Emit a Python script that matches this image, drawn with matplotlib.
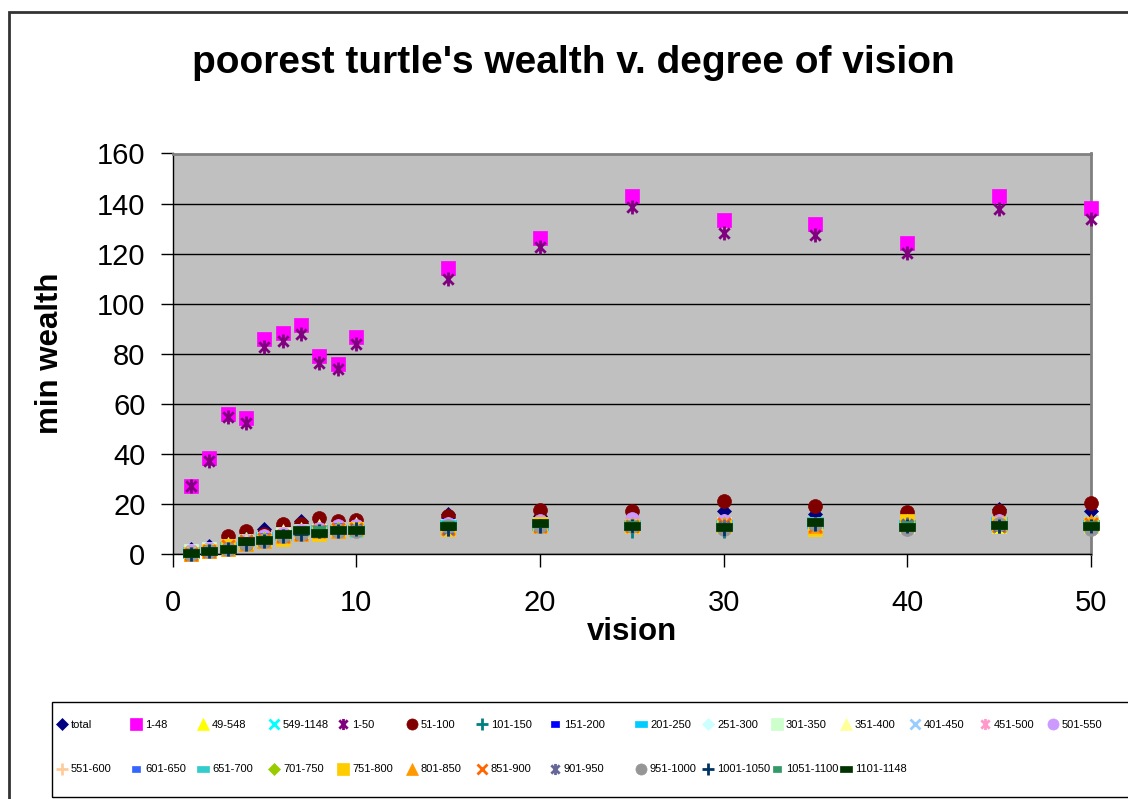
import matplotlib
matplotlib.use("Agg")
import matplotlib.pyplot as plt
from matplotlib.path import Path
from matplotlib.patches import Rectangle
from matplotlib.lines import Line2D

plt.rcParams['font.family'] = ['Liberation Sans', 'DejaVu Sans']

vision = [1, 2, 3, 4, 5, 6, 7, 8, 9, 10, 15, 20, 25, 30, 35, 40, 45, 50]

total = [2, 3, 5, 8, 10, 11, 13, 11, 11, 11, 16, 15, 13, 17, 16, 13, 18, 17]
r1_48 = [27.3, 38.5, 56.1, 54.5, 86, 88.1, 91.3, 79.3, 76.1, 86.5, 114.4, 126.4, 143.2, 133.6, 132, 124.4, 143.2, 138.4]
r49_548 = [0, 1, 2, 5, 6, 7, 8, 9, 10, 11, 10, 11, 11, 11, 10, 12, 11, 11]
r549_1148 = [0, 1, 2, 4, 5, 7, 8, 8, 9, 9, 11, 11, 11, 11, 11, 11, 11, 11]
r1_50 = [27, 37.2, 54.7, 52.3, 82.7, 85, 88, 76.3, 73.9, 84, 110, 122.8, 138.8, 128.4, 127.6, 120.4, 138, 134]
r51_100 = [1, 2, 7, 9, 8, 12, 12, 14.5, 13, 13.6, 15, 17.6, 17, 21, 19.3, 16.7, 17.3, 20.3]
r101_150 = [1, 2, 3, 6, 6, 8, 9, 10, 10, 10, 12, 12, 9, 9, 12, 11, 11, 10]
r151_200 = [1, 2, 4, 6, 7, 8, 10, 10, 11, 11, 13, 12, 12, 12, 13, 12, 12, 12]
r201_250 = [0, 1, 3, 5, 7, 8, 9, 10, 10, 10, 12, 11, 11, 12, 12, 12, 13, 12]
r251_300 = [1, 2, 3, 5, 6, 8, 9, 10, 9, 11, 11, 11, 12, 13, 12, 12, 13, 11]
r301_350 = [1, 2, 3, 5, 6, 8, 9, 9, 10, 10, 11, 12, 11, 12, 12, 11, 12, 12]
r351_400 = [1, 2, 4, 6, 7, 9, 10, 11, 11, 12, 12, 11, 12, 12, 12, 13, 12, 12]
r401_450 = [0, 1, 3, 5, 6, 7, 9, 9, 9, 10, 10, 12, 11, 12, 11, 12, 12, 13]
r451_500 = [1, 2, 3, 5, 6, 8, 9, 10, 10, 11, 11, 12, 13, 12, 11, 12, 12, 12]
r501_550 = [1, 2, 3, 5, 7, 8, 9, 10, 11, 11, 12, 13, 14, 13, 12, 11, 13, 12]
r551_600 = [0, 1, 3, 5, 6, 7, 8, 9, 10, 10, 10, 11, 11, 11, 12, 11, 12, 12]
r601_650 = [1, 2, 3, 5, 7, 8, 9, 10, 11, 10, 12, 11, 12, 12, 13, 12, 12, 12]
r651_700 = [1, 1, 3, 5, 6, 7, 9, 10, 10, 10, 12, 11, 12, 11, 13, 12, 11, 12]
r701_750 = [0, 1, 3, 4, 6, 7, 8, 9, 10, 10, 11, 12, 11, 12, 12, 11, 12, 10]
r751_800 = [0, 1, 3, 4, 5, 6, 8, 8, 9, 10, 10, 12, 11, 11, 10, 13, 12, 12]
r801_850 = [0, 1, 2, 4, 5, 7, 8, 9, 9, 10, 11, 11, 12, 12, 11, 12, 12, 13]
r851_900 = [0, 1, 3, 5, 6, 7, 8, 9, 10, 10, 10, 11, 11, 12, 11, 11, 11, 12]
r901_950 = [0, 1, 2, 4, 5, 7, 8, 9, 9, 10, 10, 11, 11, 11, 12, 12, 11, 11]
r951_1000 = [0, 1, 2, 4, 5, 7, 8, 9, 9, 9, 11, 11, 11, 10, 12, 10, 12, 10]
r1001_1050 = [0, 1, 2, 4, 5, 7, 8, 9, 9, 10, 10, 11, 11, 10, 12, 11, 11, 11]
r1051_1100 = [0, 1, 2, 5, 6, 8, 9, 10, 10, 10, 12, 12, 12, 11, 13, 12, 11, 12]
r1101_1148 = [0.4, 1.3, 2, 5.2, 5.6, 8, 9.6, 8.5, 9.6, 9.6, 11.3, 12.3, 11.3, 10.7, 12.9, 10.7, 11.6, 11.2]

labels = ["total", "1-48", "49-548", "549-1148", "1-50", "51-100", "101-150",
          "151-200", "201-250", "251-300", "301-350", "351-400", "401-450",
          "451-500", "501-550", "551-600", "601-650", "651-700", "701-750",
          "751-800", "801-850", "851-900", "901-950", "951-1000", "1001-1050",
          "1051-1100", "1101-1148"]
series = [total, r1_48, r49_548, r549_1148, r1_50, r51_100, r101_150,
          r151_200, r201_250, r251_300, r301_350, r351_400, r401_450,
          r451_500, r501_550, r551_600, r601_650, r651_700, r701_750,
          r751_800, r801_850, r851_900, r901_950, r951_1000, r1001_1050,
          r1051_1100, r1101_1148]
colors = ["#000080", "#FF00FF", "#FFFF00", "#00FFFF", "#800080", "#800000",
          "#008080", "#0000FF", "#00CCFF", "#CCFFFF", "#CCFFCC", "#FFFF99",
          "#99CCFF", "#FF99CC", "#CC99FF", "#FFCC99", "#3366FF", "#33CCCC",
          "#99CC00", "#FFCC00", "#FF9900", "#FF6600", "#666699", "#969696",
          "#003366", "#339966", "#003300"]
# excel cycles 9 marker shapes
shapes = ["diamond", "square", "triangle", "x", "star", "circle", "plus", "dash", "longdash"]

star = Path([(0, -1), (0, 1), (-0.75, -0.75), (0.75, 0.75), (-0.75, 0.75), (0.75, -0.75)],
            [Path.MOVETO, Path.LINETO] * 3)
xmark = Path([(-1, -1), (1, 1), (-1, 1), (1, -1)], [Path.MOVETO, Path.LINETO] * 2)
plusm = Path([(-1, 0), (1, 0), (0, -1), (0, 1)], [Path.MOVETO, Path.LINETO] * 2)
dash = Path([(-1, -0.6), (1, -0.6), (1, 0.6), (-1, 0.6), (-1, -0.6)],
            [Path.MOVETO, Path.LINETO, Path.LINETO, Path.LINETO, Path.CLOSEPOLY])
longdash = Path([(-1, -0.45), (1, -0.45), (1, 0.45), (-1, 0.45), (-1, -0.45)],
                [Path.MOVETO, Path.LINETO, Path.LINETO, Path.LINETO, Path.CLOSEPOLY])
mk = {"diamond": ("D", 7.5, False), "square": ("s", 10, False), "triangle": ("^", 10, False),
      "x": (xmark, 9, True), "star": (star, 10, True), "circle": ("o", 10, False),
      "plus": (plusm, 10, True), "dash": (dash, 8, False), "longdash": (longdash, 11.5, False)}

fig = plt.figure(figsize=(11.28, 7.99), dpi=100)
ax = fig.add_axes([172.5 / 1128, 1 - 554 / 799, (1091 - 172.5) / 1128, (554 - 153.5) / 799])
ax.set_facecolor("#C0C0C0")

handles = []
for i, (lab, ys, c) in enumerate(zip(labels, series, colors)):
    m, ms, lined = mk[shapes[i % len(shapes)]]
    if lined:
        kw = dict(marker=m, markersize=ms, markeredgecolor=c, markerfacecolor="none", markeredgewidth=2)
    else:
        kw = dict(marker=m, markersize=ms, markeredgecolor=c, markerfacecolor=c, markeredgewidth=0.5)
    ln, = ax.plot(vision, ys, linestyle="none", label=lab, clip_on=False, zorder=3 + i * 0.01, **kw)
    handles.append(ln)

ax.set_xlim(0, 50)
ax.set_ylim(0, 160)
ax.set_xticks(range(0, 51, 10))
ax.set_yticks(range(0, 161, 20))
ax.grid(axis="y", color="#000000", linewidth=1)
ax.set_axisbelow(True)
ax.tick_params(axis="both", labelsize=21, direction="out", length=9, width=1, color="#000000")
ax.tick_params(axis="y", pad=10.5)
ax.tick_params(axis="x", pad=16)
for s in ["left", "bottom"]:
    ax.spines[s].set_color("#000000")
    ax.spines[s].set_linewidth(1)
for s in ["top", "right"]:
    ax.spines[s].set_color("#808080")
    ax.spines[s].set_linewidth(2)

ax.set_xlabel("vision", fontsize=22.5, fontweight="bold", labelpad=0)
ax.set_ylabel("min wealth", fontsize=22.5, fontweight="bold", labelpad=23)
fig.text(573 / 1128, 1 - 63 / 799, "poorest turtle's wealth v. degree of vision",
         fontsize=28, fontweight="bold", ha="center", va="center")

# outer chart border and legend box (both run off the right edge)
fig.patches.append(Rectangle((9 / 1128, -0.01), 1.05, 1 - 12 / 799 + 0.01, transform=fig.transFigure,
                             fill=False, edgecolor="#333333", linewidth=2))
fig.patches.append(Rectangle((52 / 1128, 2 / 799), 1.0, (797 - 702) / 799, transform=fig.transFigure,
                             fill=False, edgecolor="#000000", linewidth=1))

# legend: one small legend per column so the columns sit where excel put them
ncol = 15
col_px = [62, 136, 203, 274, 343, 412, 482, 555, 641, 708, 777, 846, 915, 985, 1053]
for c in range(ncol):
    entries = []
    for k in (c, c + ncol):
        if k >= len(handles):
            continue
        h = handles[k]
        entries.append(Line2D([], [], linestyle="none", marker=h.get_marker(),
                              markersize=h.get_markersize() * 0.8,
                              markeredgecolor=h.get_markeredgecolor(),
                              markerfacecolor=h.get_markerfacecolor(),
                              markeredgewidth=h.get_markeredgewidth(), label=h.get_label()))
    fig.legend(handles=entries, loc="upper left",
               bbox_to_anchor=((col_px[c] - 5.5) / 1128, 1 - 720 / 799),
               fontsize=8, frameon=False, handlelength=1.0, handletextpad=0.3,
               borderaxespad=0, borderpad=0, labelspacing=3.1)

fig.savefig("out.png", dpi=100)
